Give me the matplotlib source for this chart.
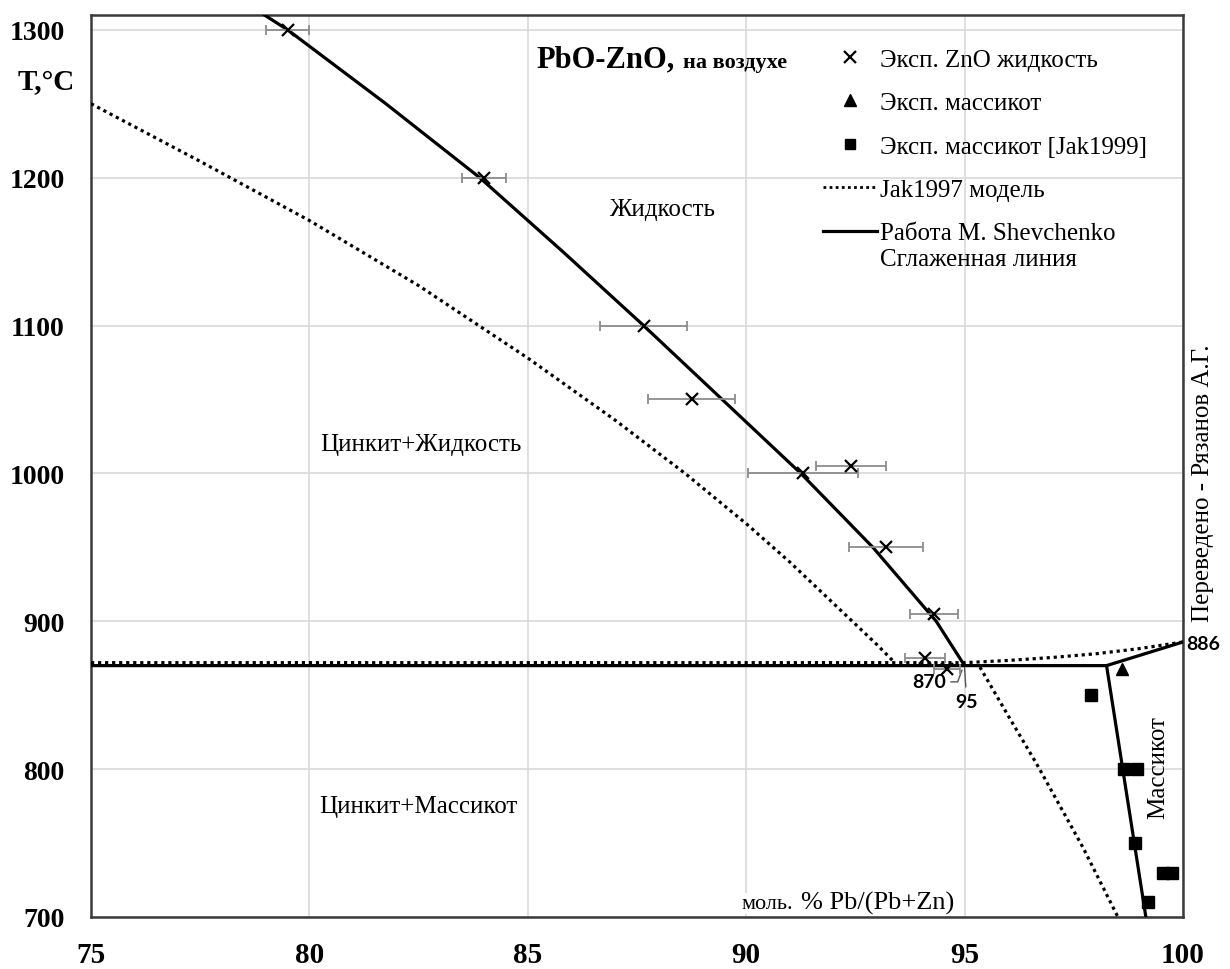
import matplotlib
matplotlib.use("Agg")
import matplotlib.pyplot as plt
from matplotlib.lines import Line2D

SERIF = ["Liberation Serif", "DejaVu Serif"]
SANS = ["Lato", "DejaVu Sans"]
plt.rcParams["font.family"] = SERIF

# ---------------- data ----------------
# experimental ZnO liquidus (x = mol.% Pb/(Pb+Zn), T in C) with x error
exp_x = [79.5, 84.0, 87.65, 88.75, 91.3, 92.4, 93.2, 94.3, 94.1, 94.6]
exp_T = [1300, 1200, 1100, 1050, 1000, 1005, 950, 905, 875, 868]
exp_xerr = [0.5, 0.5, 1.0, 1.0, 1.25, 0.8, 0.85, 0.55, 0.46, 0.3]

# experimental massicot (triangle)
mas_x = [98.6]
mas_T = [868]

# experimental massicot [Jak1999] (squares)
jak99_x = [97.9, 98.65, 98.95, 98.9, 99.55, 99.75, 99.2]
jak99_T = [850, 800, 800, 750, 730, 730, 710]

# Shevchenko smoothed liquidus
liq_x = [78.97, 79.5, 81.75, 83.9, 85.8, 87.65, 89.45, 91.25, 92.9, 94.35, 95.0]
liq_T = [1310, 1300, 1250, 1200, 1150, 1100, 1050, 1000, 950, 900, 870]

# Shevchenko eutectic / massicot lines
eut_x = [75.0, 98.25, 100.0]
eut_T = [870, 870, 886]
solv_x = [98.25, 99.15]
solv_T = [870, 700]

# Jak1997 model (dotted)
jak_up_x = [75.0, 77.5, 80.0, 82.5, 85.0, 87.0, 88.6, 90.0, 91.0, 92.0, 93.0, 93.4]
jak_up_T = [1250, 1211, 1171, 1127, 1078, 1036, 1000, 966, 940, 912, 884, 872]
jak_eut_x = [75.0, 95.0, 96.0, 97.0, 98.0, 99.0, 100.0]
jak_eut_T = [872, 872, 873.5, 875.5, 878, 881.5, 886]
jak_low_x = [95.35, 96.0, 96.66, 97.71, 98.51]
jak_low_T = [869, 836, 803, 747, 700]

x_ticks = [75, 80, 85, 90, 95, 100]
y_ticks = [700, 800, 900, 1000, 1100, 1200, 1300]

# ---------------- figure ----------------
W, H = 1230, 970
fig = plt.figure(figsize=(W / 100, H / 100), dpi=100)
L, R, B, T = 91, 1183, 918, 16
ax = fig.add_axes([L / W, 1 - B / H, (R - L) / W, (B - T) / H])
ax.set_xlim(75, 100)
ax.set_ylim(700, 1310)

ax.set_xticks(x_ticks)
ax.set_yticks(y_ticks)
ax.grid(True, color="#d9d9d9", lw=1.2, zorder=0)
ax.tick_params(length=0)
ax.tick_params(axis="x", pad=17, labelsize=21)
ax.tick_params(axis="y", pad=19, labelsize=20)
for lab in ax.get_xticklabels() + ax.get_yticklabels():
    lab.set_fontweight("bold")
for s in ax.spines.values():
    s.set_color("#3a3a3a")
    s.set_linewidth(1.8)

# lines
dot = (0, (1, 1.2))
ax.plot(jak_up_x, jak_up_T, ls=dot, color="black", lw=2.3, zorder=3)
ax.plot(jak_eut_x, jak_eut_T, ls=dot, color="black", lw=2.3, zorder=3)
ax.plot(jak_low_x, jak_low_T, ls=dot, color="black", lw=2.3, zorder=3)
ax.plot(liq_x, liq_T, color="black", lw=2.3, zorder=4)
ax.plot(eut_x, eut_T, color="black", lw=2.3, zorder=4)
ax.plot(solv_x, solv_T, color="black", lw=2.3, zorder=4)

# experimental points
ax.errorbar(exp_x, exp_T, xerr=exp_xerr, fmt="none", ecolor="#8c8c8c",
            elinewidth=1.3, capsize=3.5, capthick=1.3, zorder=5)
ax.plot(exp_x, exp_T, ls="none", marker="x", ms=9, mew=1.6, color="black", zorder=6)
ax.plot(mas_x, mas_T, ls="none", marker="^", ms=9, color="black", zorder=6)
ax.plot(jak99_x, jak99_T, ls="none", marker="s", ms=8, color="black", zorder=6)

# legend
handles = [
    Line2D([], [], ls="none", marker="x", ms=8, mew=1.6, color="black"),
    Line2D([], [], ls="none", marker="^", ms=9, color="black"),
    Line2D([], [], ls="none", marker="s", ms=7, color="black"),
    Line2D([], [], ls=dot, lw=2.0, color="black"),
    Line2D([], [], ls="-", lw=2.3, color="black"),
]
labels = ["Эксп. ZnO жидкость", "Эксп. массикот", "Эксп. массикот [Jak1999]",
          "Jak1997 модель", "Работа M. Shevchenko"]
leg = ax.legend(handles, labels, loc="upper left", frameon=False,
                bbox_to_anchor=(823 / W, 1 - 49 / H), bbox_transform=fig.transFigure,
                fontsize=18, handlelength=2.16, handletextpad=0.1,
                labelspacing=0.84, borderpad=0, borderaxespad=0)
fig.text(880 / W, 1 - 260 / H, "Сглаженная линия", fontsize=18, va="center", ha="left")

# title
ax.text(85.19, 1275, "PbO-ZnO,", fontsize=22, fontweight="bold", ha="left", va="baseline")
ax.text(88.55, 1275, "на воздухе", fontsize=16, fontweight="bold", ha="left", va="baseline")

# region labels
ax.text(88.07, 1179, "Жидкость", fontsize=18, ha="center", va="center")
ax.text(82.55, 1020, "Цинкит+Жидкость", fontsize=18, ha="center", va="center")
ax.text(82.5, 775, "Цинкит+Массикот", fontsize=18, ha="center", va="center")
ax.text(99.43, 802, "Массикот", fontsize=18, ha="center", va="center", rotation=90)

# axis label inside plot
ax.text(89.9, 706, "моль.", fontsize=16, ha="left", va="baseline", zorder=7,
        bbox=dict(facecolor="white", edgecolor="none", pad=1))
ax.text(91.25, 706, "% Pb/(Pb+Zn)", fontsize=19, ha="left", va="baseline", zorder=7,
        bbox=dict(facecolor="white", edgecolor="none", pad=1))

# y label
fig.text(46 / W, 1 - 83 / H, "T,°C", fontsize=21, fontweight="bold", ha="center", va="center")

# annotations
ax.annotate("870", xy=(94.94, 867), xytext=(94.2, 859), fontsize=14, fontweight="bold",
            family=SANS, ha="center", va="center",
            arrowprops=dict(arrowstyle="-", color="#555555", lw=1.0,
                            connectionstyle="angle,angleA=0,angleB=70,rad=0", shrinkA=1, shrinkB=0))
ax.annotate("95", xy=(95.0, 868), xytext=(95.05, 846), fontsize=14, fontweight="bold",
            family=SANS, ha="center", va="center",
            arrowprops=dict(arrowstyle="-", color="#555555", lw=1.0, shrinkA=2, shrinkB=0))
ax.text(100.07, 885, "886", fontsize=14, fontweight="bold", family=SANS,
        ha="left", va="center", clip_on=False)

# credit
fig.text(1203 / W, 1 - 483 / H, "Переведено - Рязанов А.Г.", fontsize=18,
         rotation=90, ha="center", va="center")

fig.savefig("out.png", dpi=100, facecolor="white")
